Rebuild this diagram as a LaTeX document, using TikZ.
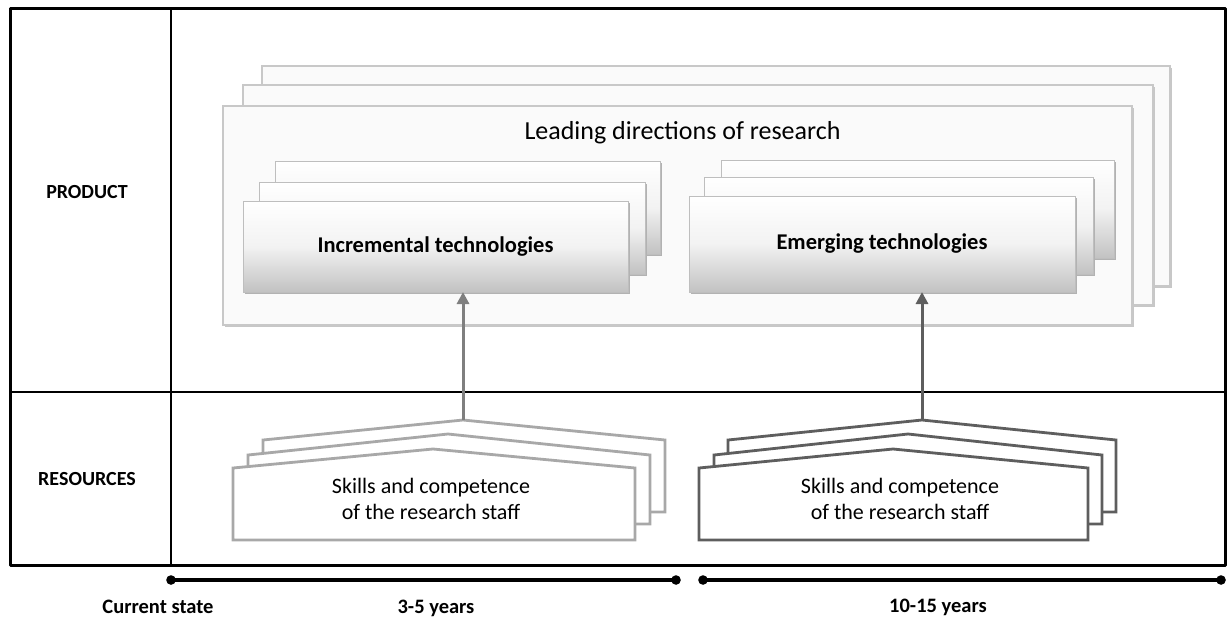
\documentclass[tikz,border=0pt]{standalone}
\usepackage{fontspec}
\setmainfont{Carlito}
\usetikzlibrary{arrows.meta}
\definecolor{leadfill}{HTML}{FAFAFA}
\definecolor{leaddraw}{HTML}{C8C8C8}
\definecolor{techdraw}{HTML}{BEBEBE}
\definecolor{resL}{HTML}{A8A8A8}
\definecolor{resR}{HTML}{5E5E5E}
\definecolor{arrL}{HTML}{7F7F7F}
\definecolor{arrR}{HTML}{5E5E5E}
\begin{document}
\begin{tikzpicture}[x=1pt,y=-1pt,
  frame/.style={line width=3pt, line join=round},
  divider/.style={line width=2.6pt},
  leadbox/.style={rectangle, draw=leaddraw, fill=leadfill, line width=1.3pt, inner sep=0pt, outer sep=0pt,
    preaction={fill=black!22, transform canvas={xshift=1.6pt,yshift=-1.6pt}}},
  techbox/.style={rectangle, draw=techdraw, line width=1pt, inner sep=0pt, outer sep=0pt,
    preaction={fill=black!30, transform canvas={xshift=1.6pt,yshift=-1.6pt}},
    top color=white, bottom color=black!24, middle color=black!5,
    font=\fontsize{22.5}{27}\selectfont\bfseries},
  resleft/.style={draw=resL, fill=white, line width=2.8pt, line join=miter},
  resright/.style={draw=resR, fill=white, line width=2.8pt, line join=miter},
  restext/.style={align=center, font=\fontsize{22}{26}\selectfont},
  rowlabel/.style={font=\fontsize{20}{24}\selectfont\bfseries},
  timelabel/.style={font=\fontsize{20.5}{24}\selectfont\bfseries},
  uparrow/.style={line width=3pt, -{Triangle[length=12pt,width=12pt]}},
  timeline/.style={line width=3.2pt}
]
\useasboundingbox[fill=white] (0,0) rectangle (1231,622);

% frame
\draw[frame] (10,8) rectangle (1225,565);
\draw[divider] (171,8) -- (171,565);
\draw[divider] (10,392) -- (1225,392);

% row labels
\node[rowlabel] (product) at (87,192) {PRODUCT};
\node[rowlabel] (resources) at (87,479) {RESOURCES};

% leading directions stack
\node[leadbox, minimum width=908pt, minimum height=220pt] (leadC) at (716,176) {};
\node[leadbox, minimum width=910pt, minimum height=220pt] (leadB) at (698,195) {};
\node[leadbox, minimum width=909pt, minimum height=219pt] (leadA) at (677.5,215.5) {};
\node[font=\fontsize{26}{30}\selectfont] (leadtxt) at (682.5,133) {Leading directions of research};

% incremental technologies stack
\node[techbox, minimum width=385pt, minimum height=93pt] (incC) at (467.5,207.5) {};
\node[techbox, minimum width=386pt, minimum height=92pt] (incB) at (452,228) {};
\node[techbox, minimum width=385pt, minimum height=91pt] (incA) at (435.5,246.5) {Incremental technologies};

% emerging technologies stack
\node[techbox, minimum width=393pt, minimum height=98pt] (emC) at (917.5,209) {};
\node[techbox, minimum width=389pt, minimum height=97pt] (emB) at (898.5,225.5) {};
\node[techbox, minimum width=386pt, minimum height=96pt] (emA) at (882,244) {Emerging technologies};

% resources (left)
\draw[resleft] (263,512) -- (263,440) -- (463,420) coordinate (apexL) -- (665,440) -- (665,512) -- cycle;
\draw[resleft] (248,524) -- (248,455) -- (448,434) -- (650,455) -- (650,524) -- cycle;
\draw[resleft] (233,540) -- (233,468) -- (433,449) -- (635,468) -- (635,540) -- cycle;
\node[restext] (skillsL) at (431,499) {Skills and competence\\of the research staff};

% resources (right)
\draw[resright] (728,512) -- (728,440) -- (922,420) coordinate (apexR) -- (1116,440) -- (1116,512) -- cycle;
\draw[resright] (714,524) -- (714,455) -- (908,434) -- (1102,455) -- (1102,524) -- cycle;
\draw[resright] (699,540) -- (699,468) -- (893,449) -- (1088,468) -- (1088,540) -- cycle;
\node[restext] (skillsR) at (900,499) {Skills and competence\\of the research staff};

% arrows
\draw[uparrow, draw=arrL, fill=arrL] (apexL) -- (apexL |- incA.south);
\draw[uparrow, draw=arrR, fill=arrR] (apexR) -- (apexR |- emA.south);

% timeline
\coordinate (tl1) at (171,580);
\coordinate (tl2) at (676,580);
\coordinate (tr1) at (703,580);
\coordinate (tr2) at (1221,580);
\draw[timeline] (tl1) -- (tl2);
\draw[timeline] (tr1) -- (tr2);
\foreach \p in {tl1,tl2,tr1,tr2} \fill (\p) circle (4.8pt);

\node[timelabel] (now) at (158,607) {Current state};
\node[timelabel] (short) at (436,608) {3-5 years};
\node[timelabel] (long) at (938,607) {10-15 years};
\end{tikzpicture}
\end{document}
